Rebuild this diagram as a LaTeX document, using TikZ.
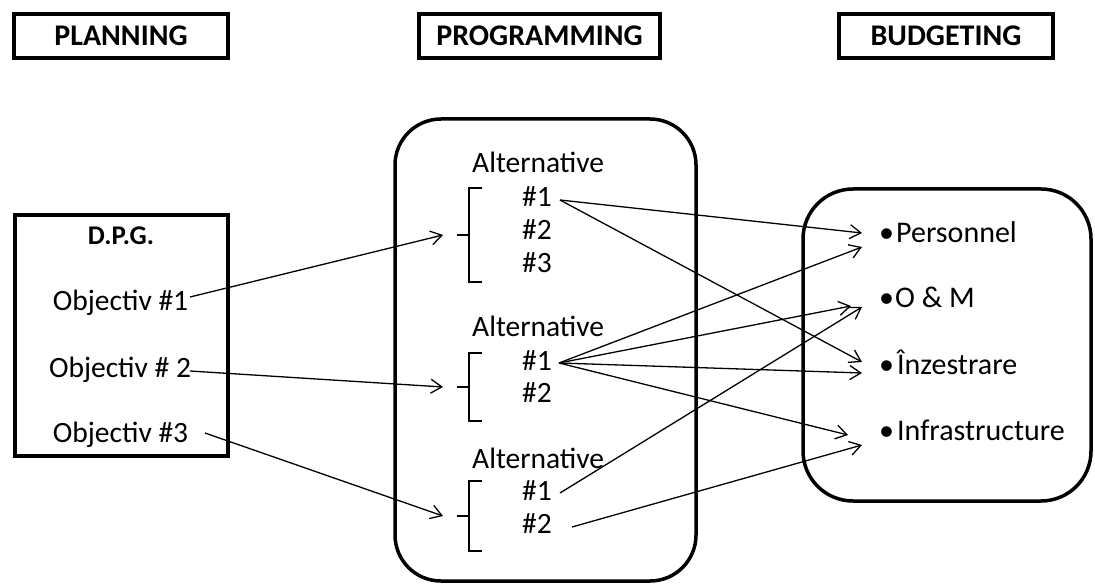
\documentclass[tikz,border=0pt]{standalone}
\usepackage{fontspec}
\setmainfont{Carlito}
\usetikzlibrary{arrows.meta}

\begin{document}
\begin{tikzpicture}[x=1pt,y=-1pt,
  hdr/.style={draw,line width=4pt,minimum width=214pt,minimum height=44pt,inner sep=0pt,
    font=\fontsize{30}{32}\selectfont\bfseries},
  frame/.style={draw,line width=4.5pt,inner sep=0pt},
  roundbox/.style={draw,line width=3.5pt,inner sep=0pt},
  txt/.style={anchor=base,inner sep=0pt,font=\fontsize{29.5}{32}\selectfont},
  ltxt/.style={anchor=base west,inner sep=0pt,font=\fontsize{29.5}{32}\selectfont},
  conn/.style={line width=1.3pt,-{Straight Barb[length=11pt,width=14pt,line width=1.3pt]}},
  brk/.style={line width=1.3pt}
]
\useasboundingbox (0,0) rectangle (1095,585);

% column headers
\node[hdr] (planning) at (121,36) {PLANNING};
\node[hdr,minimum width=241pt] (programming) at (539.5,36) {PROGRAMMING};
\node[hdr] (budgeting) at (946,36) {BUDGETING};

% planning frame with objectives
\node[frame,minimum width=213pt,minimum height=241pt] (dpg) at (121.5,335.5) {};
\node[txt,font=\fontsize{27}{30}\selectfont\bfseries] (dpgt) at (121,245) {D.P.G.};
\node[txt] (obj1) at (120.5,311) {Objectiv \#1};
\node[txt] (obj2) at (120,377) {Objectiv \# 2};
\node[txt] (obj3) at (120.5,442) {Objectiv \#3};

% programming frame with alternatives
\node[roundbox,rounded corners=46pt,minimum width=301pt,minimum height=462pt] (prog) at (545.5,350) {};
\node[ltxt] (alt1) at (472,173) {Alternative};
\node[ltxt] (a1n1) at (522,207) {\#1};
\node[ltxt] (a1n2) at (522,240) {\#2};
\node[ltxt] (a1n3) at (522,273) {\#3};
\node[ltxt] (alt2) at (472,337) {Alternative};
\node[ltxt] (a2n1) at (522,370) {\#1};
\node[ltxt] (a2n2) at (522,402) {\#2};
\node[ltxt] (alt3) at (472,468) {Alternative};
\node[ltxt] (a3n1) at (522,500) {\#1};
\node[ltxt] (a3n2) at (522,533) {\#2};

% brackets grouping the alternatives
\draw[brk] (482,188) -- (469,188) -- (469,282) -- (482,282) (457,235) -- (469,235);
\draw[brk] (482,353) -- (469,353) -- (469,421) -- (482,421) (457,387) -- (469,387);
\draw[brk] (482,481) -- (469,481) -- (469,551) -- (482,551) (457,516) -- (469,516);

% budgeting frame with categories
\node[roundbox,rounded corners=50pt,minimum width=288pt,minimum height=312pt] (budg) at (947,345) {};
\node[ltxt,font=\fontsize{30}{32}\selectfont] (pers) at (879,243) {•\kern2pt Personnel};
\node[ltxt,font=\fontsize{30}{32}\selectfont] (om) at (879,308) {•\kern1pt O \& M};
\node[ltxt,font=\fontsize{30}{32}\selectfont] (inz) at (879,374) {•\kern3pt Înzestrare};
\node[ltxt,font=\fontsize{30}{32}\selectfont] (infra) at (879,440) {•\kern3pt Infrastructure};

% connector end points
\coordinate (o1s) at (190,297);
\coordinate (o2s) at (190,371);
\coordinate (o3s) at (205,433);
\coordinate (b1) at (443,235);
\coordinate (b2) at (443,387);
\coordinate (b3) at (443,516);
\coordinate (s11) at (560,200);
\coordinate (s21) at (559,363);
\coordinate (s31) at (560,493);
\coordinate (s32) at (572,527);
\coordinate (pA) at (862,233);
\coordinate (pB) at (862,247);
\coordinate (oA) at (851,306);
\coordinate (oB) at (862,307);
\coordinate (iA) at (862,362);
\coordinate (iB) at (862,373);
\coordinate (fA) at (848,435);
\coordinate (fB) at (862,445);

% objectives to alternatives
\draw[conn] (o1s) -- (b1);
\draw[conn] (o2s) -- (b2);
\draw[conn] (o3s) -- (b3);

% alternatives to budget categories
\draw[conn] (s11) -- (pA);
\draw[conn] (s11) -- (iA);
\draw[conn] (s21) -- (pB);
\draw[conn] (s21) -- (oA);
\draw[conn] (s21) -- (iB);
\draw[conn] (s21) -- (fA);
\draw[conn] (s31) -- (oB);
\draw[conn] (s32) -- (fB);
\end{tikzpicture}
\end{document}
